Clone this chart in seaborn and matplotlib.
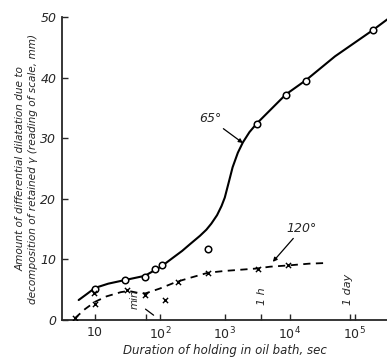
import numpy as np
import pandas as pd
import seaborn as sns
import matplotlib
matplotlib.use("Agg")
import matplotlib.pyplot as plt

# ---- data ----
# 65 deg: measured points (circles)
t65_pts = [10, 29, 59, 83, 107, 550, 3100, 8700, 18000, 190000]
y65_pts = [5.1, 6.6, 7.1, 8.4, 9.0, 11.8, 32.4, 37.2, 39.5, 47.8]
# 65 deg: drawn curve
t65_line = [5.6, 7.5, 10, 16, 29, 59, 107, 160, 220, 290, 415, 520, 620,
            760, 890, 1000, 1150, 1320, 1590, 1900, 2400, 3100, 8700, 18000,
            50000, 190000, 320000]
y65_line = [3.3, 4.3, 5.3, 6.0, 6.6, 7.3, 8.9, 10.3, 11.4, 12.5, 13.9, 14.9,
            15.9, 17.3, 18.8, 20.2, 22.7, 25.2, 27.6, 29.3, 31.0, 32.4, 37.2,
            39.6, 43.5, 47.8, 49.6]
# 120 deg: measured points (crosses)
t120_pts = [4.9, 9.5, 10, 31, 59, 120, 190, 550, 3200, 9300]
y120_pts = [0.3, 4.4, 2.6, 4.9, 4.1, 3.3, 6.3, 7.8, 8.5, 9.0]
# 120 deg: drawn dashed curve
t120_line = [4.9, 7, 10, 15, 25, 33, 45, 60, 100, 180, 300, 550, 1000,
             3100, 5000, 9300, 20000, 35000]
y120_line = [0.3, 1.8, 3.0, 3.9, 4.6, 4.8, 4.5, 4.4, 5.2, 6.3, 7.0, 7.8, 8.1,
             8.5, 8.8, 9.0, 9.3, 9.4]

x_ticks = [10, 100, 1000, 10000, 100000]
x_ticklabels = ["$\\mathit{10}$", "$\\mathit{10^2}$", "$\\mathit{10^3}$",
                "$\\mathit{10^4}$", "$\\mathit{10^5}$"]
y_ticks = [0, 10, 20, 30, 40, 50]
time_marks = [60, 3600, 86400]
time_labels = ["min", "1 h", "1 day"]

sns.set_style("ticks")
plt.rcParams["font.family"] = ["DejaVu Sans"]
plt.rcParams["mathtext.fontset"] = "dejavusans"

fig = plt.figure(figsize=(3.87, 3.60), dpi=100)
ax = fig.add_axes([0.16, 0.111, 0.84, 0.842])

sns.lineplot(x=t65_line, y=y65_line, ax=ax, color="black", lw=1.5,
             sort=False, estimator=None)
sns.lineplot(x=t120_line, y=y120_line, ax=ax, color="black", lw=1.3,
             sort=False, estimator=None, dashes=False, linestyle=(0, (4, 3)))
sns.scatterplot(x=t65_pts, y=y65_pts, ax=ax, marker="o", s=22,
                facecolor="white", edgecolor="black", linewidth=1.1, zorder=5)
sns.scatterplot(x=t120_pts, y=y120_pts, ax=ax, marker="x", s=14,
                color="black", linewidth=1.0, zorder=5)

ax.set_xscale("log")
ax.set_xlim(10 ** 0.49, 10 ** 5.5)
ax.set_ylim(0, 50)
ax.set_xticks(x_ticks)
ax.set_xticklabels(x_ticklabels)
ax.set_xticks(time_marks, minor=True)
ax.set_xticklabels([], minor=True)
ax.set_yticks(y_ticks)
ax.set_yticklabels([str(v) for v in y_ticks], fontstyle="italic")
ax.tick_params(axis="both", which="major", direction="in", length=4,
               width=1.0, labelsize=9, pad=4)
ax.tick_params(axis="x", which="minor", direction="in", length=4, width=1.0)
ax.tick_params(axis="x", which="minor", bottom=True)
for s in ["top", "right"]:
    ax.spines[s].set_visible(False)
for s in ["left", "bottom"]:
    ax.spines[s].set_linewidth(1.3)

ax.set_xlabel("Duration of holding in oil bath, sec", fontstyle="italic",
              fontsize=8.5, labelpad=1)
ax.set_ylabel("Amount of differential dilatation due to\n"
              "decomposition of retained γ (reading of scale, mm)",
              fontstyle="italic", fontsize=7.6, labelpad=2, linespacing=1.3)

# annotations
ax.annotate("65°", xy=(1900, 29.2), xytext=(400, 32.6), fontsize=9,
            fontstyle="italic",
            arrowprops=dict(arrowstyle="-|>", color="black", lw=0.9,
                            mutation_scale=6, shrinkA=0, shrinkB=0))
ax.annotate("120°", xy=(5500, 9.6), xytext=(9000, 14.5), fontsize=9,
            fontstyle="italic",
            arrowprops=dict(arrowstyle="-|>", color="black", lw=0.9,
                            mutation_scale=6, shrinkA=0, shrinkB=0))
ax.text(41, 3.5, time_labels[0], rotation=90, fontsize=7.5, fontstyle="italic",
        ha="center", va="center")
ax.plot([60, 80], [1.8, 0.8], color="black", lw=0.9)
ax.text(3700, 4.0, time_labels[1], rotation=90, fontsize=8, fontstyle="italic",
        ha="center", va="center")
ax.text(78000, 5.0, time_labels[2], rotation=90, fontsize=8, fontstyle="italic",
        ha="center", va="center")

fig.savefig("out.png", dpi=100)
